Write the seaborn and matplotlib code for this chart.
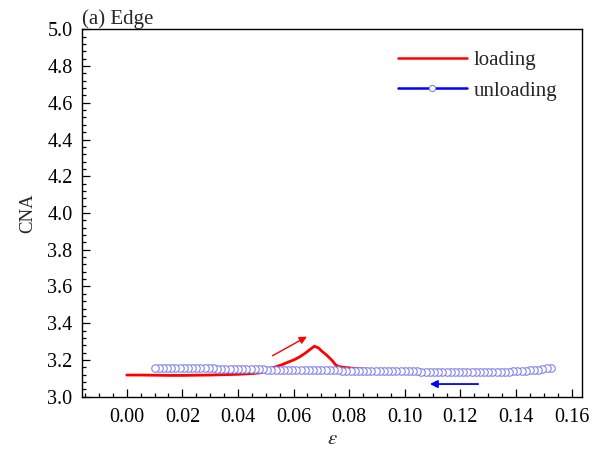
import matplotlib
matplotlib.use("Agg")
import matplotlib.pyplot as plt
from matplotlib.lines import Line2D
import seaborn as sns
import pandas as pd

# ---------------- data ----------------
load_eps = [0.000, 0.005, 0.010, 0.015, 0.020, 0.025, 0.030, 0.035, 0.040, 0.045,
            0.048, 0.050, 0.052, 0.054, 0.056, 0.058, 0.060, 0.062, 0.064, 0.066,
            0.0675, 0.069, 0.070, 0.072, 0.074, 0.075, 0.076, 0.078, 0.080, 0.083,
            0.086, 0.090, 0.095, 0.100, 0.105, 0.110, 0.115, 0.120, 0.125, 0.130,
            0.135, 0.140, 0.145, 0.150, 0.152]
load_cna = [3.118, 3.118, 3.117, 3.116, 3.116, 3.117, 3.118, 3.120, 3.122, 3.126,
            3.130, 3.140, 3.155, 3.165, 3.175, 3.188, 3.200, 3.215, 3.235, 3.258,
            3.275, 3.265, 3.250, 3.225, 3.195, 3.175, 3.165, 3.160, 3.157, 3.153,
            3.150, 3.146, 3.142, 3.140, 3.138, 3.137, 3.138, 3.137, 3.135, 3.136,
            3.138, 3.142, 3.146, 3.152, 3.155]

unload_eps = [0.1525, 0.1510, 0.1495, 0.1480, 0.1465, 0.1450, 0.1435, 0.1420, 0.1405, 0.1390,
              0.1375, 0.1360, 0.1345, 0.1330, 0.1315, 0.1300, 0.1285, 0.1270, 0.1255, 0.1240,
              0.1225, 0.1210, 0.1195, 0.1180, 0.1165, 0.1150, 0.1135, 0.1120, 0.1105, 0.1090,
              0.1075, 0.1060, 0.1045, 0.1030, 0.1015, 0.1000, 0.0985, 0.0970, 0.0955, 0.0940,
              0.0925, 0.0910, 0.0895, 0.0880, 0.0865, 0.0850, 0.0835, 0.0820, 0.0805, 0.0790,
              0.0775, 0.0760, 0.0745, 0.0730, 0.0715, 0.0700, 0.0685, 0.0670, 0.0655, 0.0640,
              0.0625, 0.0610, 0.0595, 0.0580, 0.0565, 0.0550, 0.0535, 0.0520, 0.0505, 0.0490,
              0.0475, 0.0460, 0.0445, 0.0430, 0.0415, 0.0400, 0.0385, 0.0370, 0.0355, 0.0340,
              0.0325, 0.0310, 0.0295, 0.0280, 0.0265, 0.0250, 0.0235, 0.0220, 0.0205, 0.0190,
              0.0175, 0.0160, 0.0145, 0.0130, 0.0115, 0.0100]
unload_cna = [3.156, 3.154, 3.151, 3.148, 3.146, 3.144, 3.142, 3.140, 3.139, 3.138,
              3.137, 3.136, 3.135, 3.135, 3.134, 3.134, 3.133, 3.133, 3.132, 3.132,
              3.133, 3.133, 3.134, 3.134, 3.135, 3.135, 3.136, 3.136, 3.136, 3.137,
              3.137, 3.137, 3.138, 3.138, 3.138, 3.139, 3.139, 3.139, 3.139, 3.140,
              3.140, 3.140, 3.140, 3.141, 3.141, 3.141, 3.141, 3.142, 3.142, 3.142,
              3.142, 3.143, 3.143, 3.143, 3.143, 3.144, 3.144, 3.144, 3.145, 3.145,
              3.145, 3.146, 3.146, 3.146, 3.147, 3.147, 3.148, 3.148, 3.148, 3.149,
              3.149, 3.150, 3.150, 3.150, 3.151, 3.151, 3.152, 3.152, 3.153, 3.153,
              3.153, 3.154, 3.154, 3.154, 3.155, 3.155, 3.155, 3.155, 3.156, 3.156,
              3.156, 3.156, 3.156, 3.155, 3.155, 3.154]

x_ticks = [0.00, 0.02, 0.04, 0.06, 0.08, 0.10, 0.12, 0.14, 0.16]
y_ticks = [3.0, 3.2, 3.4, 3.6, 3.8, 4.0, 4.2, 4.4, 4.6, 4.8, 5.0]

load_arrow_tail = (0.0524, 3.223)
load_arrow_head = (0.0648, 3.327)
unload_arrow_tail = (0.1264, 3.069)
unload_arrow_head = (0.1090, 3.069)

# ---------------- style ----------------
sns.set_style("ticks")
plt.rcParams["font.family"] = ["Liberation Serif", "DejaVu Serif"]
plt.rcParams["mathtext.fontset"] = "stix"
plt.rcParams["axes.linewidth"] = 1.0

fig = plt.figure(figsize=(5.99, 4.5), dpi=100)
ax = fig.add_axes([0.1374, 0.1184, 0.8336, 0.8165])

load_df = pd.DataFrame({"eps": load_eps, "cna": load_cna})
unload_df = pd.DataFrame({"eps": unload_eps, "cna": unload_cna})

sns.lineplot(data=load_df, x="eps", y="cna", sort=False, estimator=None,
             color="red", linewidth=2.0, ax=ax, zorder=2)
sns.lineplot(data=unload_df, x="eps", y="cna", sort=False, estimator=None,
             color="blue", linewidth=1.2, marker="o", markersize=5.4,
             markerfacecolor="white", markeredgecolor="#8282f0",
             markeredgewidth=0.8, ax=ax, zorder=3)

ax.annotate("", xy=load_arrow_head, xytext=load_arrow_tail,
            arrowprops=dict(arrowstyle="-|>", color="red", lw=1.0,
                            mutation_scale=11, shrinkA=0, shrinkB=0))
ax.annotate("", xy=unload_arrow_head, xytext=unload_arrow_tail,
            arrowprops=dict(arrowstyle="-|>", color="blue", lw=1.3,
                            mutation_scale=11, shrinkA=0, shrinkB=0))

ax.set_xlim(-0.016, 0.1636)
ax.set_ylim(3.0, 5.0)
ax.set_xticks(x_ticks)
ax.set_xticklabels([f"{v:.2f}" for v in x_ticks])
ax.set_yticks(y_ticks)
ax.set_yticklabels([f"{v:.1f}" for v in y_ticks])
ax.xaxis.set_minor_locator(matplotlib.ticker.MultipleLocator(0.005))
ax.yaxis.set_minor_locator(matplotlib.ticker.MultipleLocator(0.04))
ax.tick_params(which="both", direction="in", top=False, right=False,
               labelsize=14.5, width=0.9, colors="black")
ax.tick_params(which="major", length=6)
ax.tick_params(which="minor", length=3.2)
ax.tick_params(axis="x", which="major", pad=8)
ax.tick_params(axis="y", which="major", pad=7)
for s in ax.spines.values():
    s.set_visible(True)
    s.set_color("black")
    s.set_linewidth(1.0)

ax.set_xlabel(r"$\varepsilon$", fontsize=15, labelpad=2)
ax.set_ylabel("CNA", fontsize=13.5, labelpad=8)
ax.set_title("(a) Edge", loc="left", fontsize=15, pad=2)

handles = [
    Line2D([], [], color="red", lw=1.8),
    Line2D([], [], color="blue", lw=1.8, marker="o", markersize=4.5,
           markerfacecolor="white", markeredgecolor="#8282f0", markeredgewidth=0.8),
]
ax.legend(handles, ["loading", "unloading"], loc="upper right", frameon=False,
          fontsize=15, handlelength=3.3, numpoints=1, handletextpad=0.35,
          labelspacing=0.54, borderaxespad=0.0, borderpad=0.0,
          bbox_to_anchor=(0.952, 0.943))

fig.savefig("out.png", dpi=100)
